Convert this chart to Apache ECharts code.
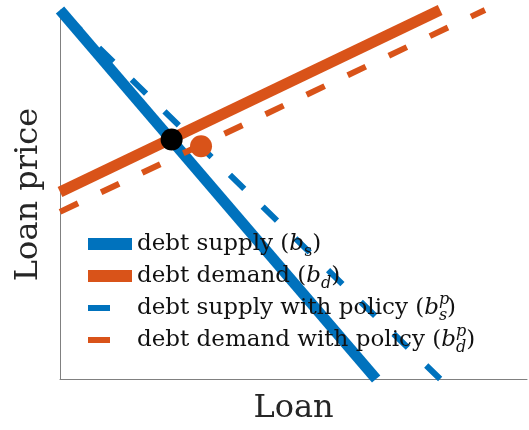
<!DOCTYPE html>
<html><head><meta charset="utf-8">
<script src="https://cdn.jsdelivr.net/npm/echarts@6/dist/echarts.min.js"></script>
<style>html,body{margin:0;padding:0;background:#fff}#c{width:529px;height:430px}</style>
</head><body><div id="c"></div>
<script>
// ---- data ----
const seriesNames = ['supply', 'demand', 'supplyPolicy', 'demandPolicy'];
const debtSupply = [[0, 1.0], [0.677, 0]];
const debtDemand = [[0, 0.507], [0.814, 1.0]];
const debtSupplyPolicy = [[0, 1.0], [0.814, 0]];
const debtDemandPolicy = [[0, 0.453], [0.91, 1.0]];
const equilibrium = [[0.239, 0.649]];
const equilibriumPolicy = [[0.302, 0.631]];
const xAxisName = 'Loan';
const yAxisName = 'Loan price';
const legendLabels = {
  supply: 'debt supply ({i|b}{subr|s}{n|)}',
  demand: 'debt demand ({i|b}{subi|d}{n|)}',
  supplyPolicy: 'debt supply with policy ({i|b}{supz|p}{subi2|s}{n|)}',
  demandPolicy: 'debt demand with policy ({i|b}{supz|p}{subi2|d}{n|)}'
};

const BLUE = '#0072BD', ORANGE = '#D95319';
const FONT = 'DejaVu Serif';
const SOLID_ICON = 'path://M0,0L44,0L44,12L0,12Z';
const DASH_ICON = 'path://M0,0M44,12M0,3L22,3L22,9L0,9Z';
const chart = echarts.init(document.getElementById('c'), null, {renderer: 'canvas'});
const base = {fontFamily: FONT, fontSize: 23, lineHeight: 32, color: '#111'};
const small = {fontFamily: FONT, fontSize: 16, color: '#111'};
chart.setOption({
  animation: false,
  grid: {left: 60, right: 2, top: 10, bottom: 47, containLabel: false},
  xAxis: {
    type: 'value', min: 0, max: 1,
    name: xAxisName, nameLocation: 'middle', nameGap: 14,
    nameTextStyle: {fontFamily: FONT, fontSize: 32, color: '#262626'},
    axisLine: {show: true, lineStyle: {color: '#808080', width: 1}},
    axisTick: {show: false}, axisLabel: {show: false}, splitLine: {show: false}
  },
  yAxis: {
    type: 'value', min: 0, max: 1,
    name: yAxisName, nameLocation: 'middle', nameGap: 15,
    nameTextStyle: {fontFamily: FONT, fontSize: 32, color: '#262626'},
    axisLine: {show: true, lineStyle: {color: '#808080', width: 1}},
    axisTick: {show: false}, axisLabel: {show: false}, splitLine: {show: false}
  },
  legend: {
    orient: 'vertical', left: 88, top: 228, padding: 0,
    itemWidth: 44, itemHeight: 12, itemGap: 0,
    selectedMode: false,
    formatter: name => legendLabels[name],
    textStyle: Object.assign({}, base, {
      rich: {
        n: base,
        i: Object.assign({}, base, {fontStyle: 'italic'}),
        subr: Object.assign({}, small, {lineHeight: 18, verticalAlign: 'bottom'}),
        subi: Object.assign({}, small, {lineHeight: 18, verticalAlign: 'bottom', fontStyle: 'italic'}),
        subi2: Object.assign({}, small, {lineHeight: 12, verticalAlign: 'bottom', fontStyle: 'italic'}),
        supz: Object.assign({}, small, {lineHeight: 12, verticalAlign: 'top', fontStyle: 'italic', width: 0})
      }
    }),
    data: [
      {name: seriesNames[0], icon: SOLID_ICON, itemStyle: {color: BLUE, borderWidth: 0}},
      {name: seriesNames[1], icon: SOLID_ICON, itemStyle: {color: ORANGE, borderWidth: 0}},
      {name: seriesNames[2], icon: DASH_ICON, itemStyle: {color: BLUE, borderWidth: 0}},
      {name: seriesNames[3], icon: DASH_ICON, itemStyle: {color: ORANGE, borderWidth: 0}}
    ]
  },
  series: [
    {name: seriesNames[0], type: 'line', data: debtSupply, symbol: 'none', showSymbol: false, clip: false,
     color: BLUE, lineStyle: {color: BLUE, width: 11, cap: 'butt'}},
    {name: seriesNames[1], type: 'line', data: debtDemand, symbol: 'none', showSymbol: false, clip: false,
     color: ORANGE, lineStyle: {color: ORANGE, width: 11, cap: 'butt'}},
    {name: seriesNames[2], type: 'line', data: debtSupplyPolicy, symbol: 'none', showSymbol: false, clip: false,
     color: BLUE, lineStyle: {color: BLUE, width: 6, type: [20, 25.6], dashOffset: 36.8, cap: 'butt'}},
    {name: seriesNames[3], type: 'line', data: debtDemandPolicy, symbol: 'none', showSymbol: false, clip: false,
     color: ORANGE, lineStyle: {color: ORANGE, width: 6, type: [20, 25.5], dashOffset: 0, cap: 'butt'}},
    {name: 'eq', type: 'scatter', data: equilibrium, symbol: 'circle', symbolSize: 22,
     itemStyle: {color: '#000', opacity: 1}, z: 5},
    {name: 'eqPolicy', type: 'scatter', data: equilibriumPolicy, symbol: 'circle', symbolSize: 22,
     itemStyle: {color: ORANGE, opacity: 1}, z: 5}
  ]
});
</script></body></html>
